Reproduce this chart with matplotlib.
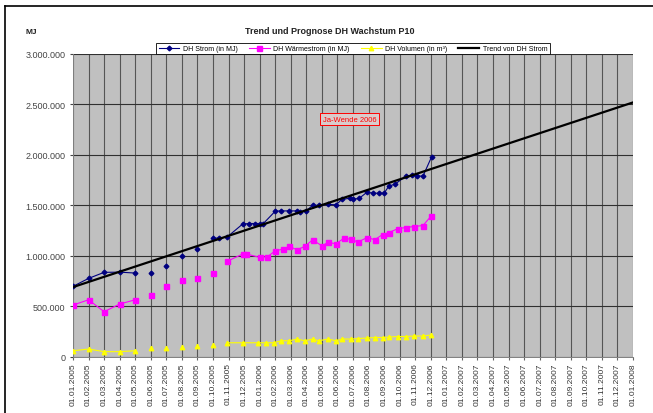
import matplotlib
matplotlib.use('Agg')
import matplotlib.pyplot as plt
import numpy as np
from matplotlib.ticker import FuncFormatter
from matplotlib.lines import Line2D

plt.rcParams['font.family'] = ['Liberation Sans', 'DejaVu Sans']

nan = np.nan

title = "Trend und Prognose DH Wachstum P10"
unit_label = "MJ"
note_text = "Ja-Wende 2006"

month_labels = [
    "01.01.2005", "01.02.2005", "01.03.2005", "01.04.2005", "01.05.2005", "01.06.2005",
    "01.07.2005", "01.08.2005", "01.09.2005", "01.10.2005", "01.11.2005", "01.12.2005",
    "01.01.2006", "01.02.2006", "01.03.2006", "01.04.2006", "01.05.2006", "01.06.2006",
    "01.07.2006", "01.08.2006", "01.09.2006", "01.10.2006", "01.11.2006", "01.12.2006",
    "01.01.2007", "01.02.2007", "01.03.2007", "01.04.2007", "01.05.2007", "01.06.2007",
    "01.07.2007", "01.08.2007", "01.09.2007", "01.10.2007", "01.11.2007", "01.12.2007",
    "01.01.2008",
]

# month index (position on the date axis); nan values break the line
strom_x = [0, 1, 2, 3, 4, 4.5, 5, 5.5, 6, 6.5, 7, 7.5, 8, 8.5,
           9, 9.4, 9.9, 10.9, 11.3, 11.7, 12.0, 12.2,
           13.0, 13.4, 13.9, 14.4, 14.6, 15.0, 15.4, 15.8, 16.4, 16.9,
           17.3, 17.8, 18.0, 18.4, 18.9, 19.3, 19.7, 20.0, 20.3, 20.7,
           21.4, 21.8, 22.1, 22.5, 23.05]
strom_v = [697000, 776000, 836000, 838000, 829000, nan, 829000, nan, 898000, nan,
           997000, nan, 1066000, nan,
           1175000, 1175000, 1185000, 1314000, 1320000, 1320000, 1320000, 1314000,
           1442000, 1445000, 1445000, 1445000, 1435000, 1445000, 1500000, 1500000,
           1510000, 1505000,
           1560000, 1570000, 1560000, 1570000, 1630000, 1620000, 1620000, 1620000,
           1690000, 1710000,
           1790000, 1800000, 1790000, 1790000, 1980000]

waerme_x = [0, 1, 2, 3, 4, 4.5, 5, 5.5, 6, 6.5, 7, 7.5, 8, 8.5, 9, 9.5,
            9.9, 10.9, 11.1, 12.0, 12.5, 13.0, 13.5, 13.9, 14.4, 14.9, 15.4,
            16.0, 16.4, 16.9, 17.4, 17.9, 18.3, 18.9, 19.4, 19.9, 20.3, 20.9,
            21.4, 21.9, 22.5, 23.0]
waerme_v = [512000, 564000, 446000, 522000, 564000, nan, 614000, nan, 697000, nan,
            760000, nan, 779000, nan, 826000, nan,
            945000, 1017000, 1020000, 984000, 990000, 1050000, 1066000, 1093000,
            1060000, 1093000, 1158000, 1099000, 1133000, 1119000, 1172000, 1165000,
            1135000, 1180000, 1160000, 1210000, 1230000, 1270000, 1280000, 1290000,
            1300000, 1390000]

volumen_x = [0, 1, 2, 3, 4, 4.5, 5, 5.5, 6, 6.5, 7, 7.5, 8, 8.5, 9, 9.5,
             9.9, 10.9, 11.9, 12.4, 12.9, 13.4, 13.9, 14.4, 14.9, 15.4, 15.8,
             16.4, 16.9, 17.3, 17.9, 18.3, 18.9, 19.4, 19.9, 20.3, 20.9, 21.4,
             21.9, 22.5, 23.0]
volumen_v = [59000, 76000, 50000, 50000, 59000, nan, 83000, nan, 83000, nan,
             93000, nan, 103000, nan, 116000, nan,
             138000, 138000, 138000, 138000, 138000, 158000, 158000, 175000,
             158000, 175000, 158000, 175000, 158000, 175000, 175000, 180000,
             185000, 190000, 190000, 195000, 200000, 200000, 205000, 205000, 215000]

trend_x = [0, 36]
trend_v = [690000, 2520000]

note_pos = (17.8, 2355000)

series_names = ["DH Strom (in MJ)", "DH Wärmestrom (in MJ)",
                "DH Volumen (in m³)", "Trend von DH Strom"]

W, H = 653, 414
fig = plt.figure(figsize=(W / 100, H / 100), dpi=100)
fig.patch.set_facecolor('white')

ax = fig.add_axes([73 / W, (H - 357.7) / H, 560 / W, 302.7 / H])
ax.set_facecolor('#c0c0c0')
ax.set_xlim(0, 36)
ax.set_ylim(0, 3000000)
ax.set_xticks(range(len(month_labels)))
ax.set_xticklabels(month_labels, rotation=90, fontsize=6, color='#333333')
ax.set_yticks(np.arange(0, 3000001, 500000))
ax.yaxis.set_major_formatter(FuncFormatter(lambda v, p: f"{int(v):,}".replace(",", ".")))
ax.tick_params(axis='y', labelsize=6.5, colors='#444444', length=2)
ax.tick_params(axis='x', length=2, colors='#666666', labelcolor='#333333', pad=2)
ax.set_axisbelow(True)
ax.grid(axis='x', color='#555555', lw=0.8)
ax.grid(axis='y', color='#303030', lw=0.8)
for s in ['top', 'right']:
    ax.spines[s].set_visible(False)
for s in ['left', 'bottom']:
    ax.spines[s].set_color('#808080')
    ax.spines[s].set_linewidth(0.7)

ax.plot(strom_x, strom_v, color='#000080', lw=0.8, marker='D', ms=2.4,
        mfc='#000080', mec='#000080', label=series_names[0], zorder=4)
ax.plot(waerme_x, waerme_v, color='#ff00ff', lw=0.8, marker='s', ms=3.6,
        mfc='#ff00ff', mec='#ff00ff', label=series_names[1], zorder=3)
ax.plot(volumen_x, volumen_v, color='#ffff00', lw=0.8, marker='^', ms=3.2,
        mfc='#ffff00', mec='#ffff00', label=series_names[2], zorder=3)
ax.plot(trend_x, trend_v, color='black', lw=1.6, label=series_names[3], zorder=5)

ax.text(note_pos[0], note_pos[1], note_text, fontsize=5.5, color='#ff0000',
        ha='center', va='center',
        bbox=dict(boxstyle='square,pad=0.35', fc='#d9cccc', ec='#ff0000', lw=0.7))

leg = ax.legend(loc='center', bbox_to_anchor=(353 / W, (H - 49.5) / H),
                bbox_transform=fig.transFigure, ncol=4, fontsize=5,
                frameon=True, fancybox=False, edgecolor='black',
                handlelength=3.0, columnspacing=1.6, handletextpad=0.5,
                borderpad=0.35)
leg.get_frame().set_linewidth(0.6)
leg.get_frame().set_facecolor('white')
leg.get_frame().set_alpha(1)

fig.text(0.505, 1 - 32 / H, title, ha='center', va='center', fontsize=6.5,
         fontweight='bold', color='#222222')
fig.text(31 / W, 1 - 33 / H, unit_label, ha='center', va='center', fontsize=6,
         fontweight='bold', color='#222222')

fig.add_artist(Line2D([5 / W, 1], [1 - 7 / H, 1 - 7 / H], color='black', lw=1.2,
                      transform=fig.transFigure))
fig.add_artist(Line2D([5 / W, 5 / W], [0, 1 - 7 / H], color='black', lw=1.2,
                      transform=fig.transFigure))

fig.savefig('out.png', dpi=100)
